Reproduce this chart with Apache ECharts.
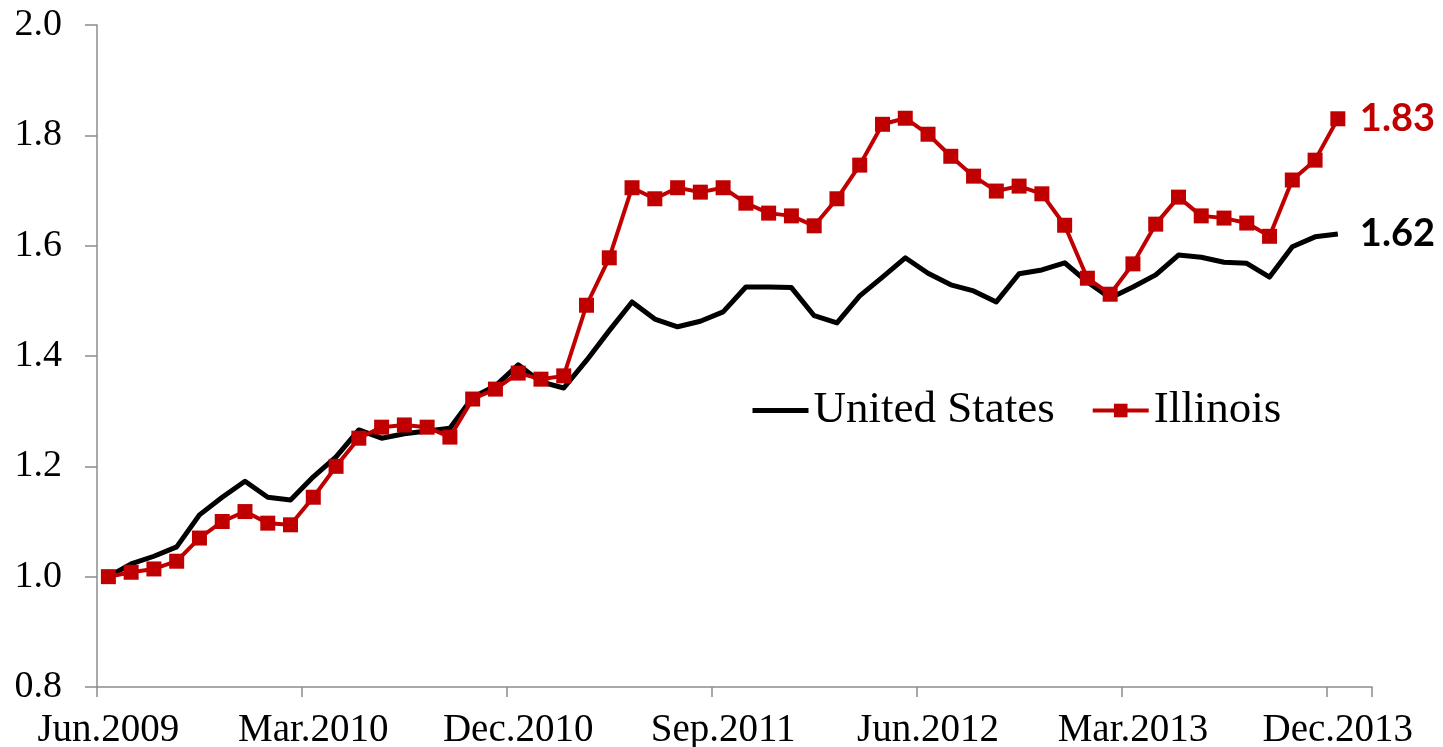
<!DOCTYPE html>
<html>
<head>
<meta charset="utf-8">
<script src="https://cdn.jsdelivr.net/npm/echarts@6/dist/echarts.min.js"></script>
<style>
  html, body { margin: 0; padding: 0; background: #fff; }
  #chart { width: 1443px; height: 747px; }
</style>
</head>
<body>
<div id="chart"></div>
<script>
const categories = [
  'Jun.2009','Jul.2009','Aug.2009','Sep.2009','Oct.2009','Nov.2009','Dec.2009',
  'Jan.2010','Feb.2010','Mar.2010','Apr.2010','May.2010','Jun.2010','Jul.2010','Aug.2010','Sep.2010','Oct.2010','Nov.2010','Dec.2010',
  'Jan.2011','Feb.2011','Mar.2011','Apr.2011','May.2011','Jun.2011','Jul.2011','Aug.2011','Sep.2011','Oct.2011','Nov.2011','Dec.2011',
  'Jan.2012','Feb.2012','Mar.2012','Apr.2012','May.2012','Jun.2012','Jul.2012','Aug.2012','Sep.2012','Oct.2012','Nov.2012','Dec.2012',
  'Jan.2013','Feb.2013','Mar.2013','Apr.2013','May.2013','Jun.2013','Jul.2013','Aug.2013','Sep.2013','Oct.2013','Nov.2013','Dec.2013',
  'Jan.2014'
];

const unitedStates = [
  1.000, 1.023, 1.037, 1.054, 1.112, 1.144, 1.173, 1.144, 1.139, 1.181,
  1.217, 1.266, 1.251, 1.259, 1.264, 1.269, 1.325, 1.346, 1.384, 1.353,
  1.342, 1.392, 1.446, 1.498, 1.467, 1.453, 1.463, 1.480, 1.525, 1.525,
  1.524, 1.473, 1.460, 1.509, 1.543, 1.578, 1.550, 1.529, 1.518, 1.498,
  1.549, 1.556, 1.569, 1.534, 1.505, 1.525, 1.547, 1.583, 1.579, 1.570,
  1.568, 1.543, 1.598, 1.616, 1.621
];

const illinois = [
  1.000, 1.008, 1.014, 1.028, 1.070, 1.100, 1.118, 1.097, 1.094, 1.144,
  1.200, 1.251, 1.271, 1.275, 1.271, 1.253, 1.322, 1.340, 1.369, 1.358,
  1.364, 1.492, 1.578, 1.705, 1.685, 1.705, 1.697, 1.705, 1.677, 1.659,
  1.654, 1.636, 1.685, 1.746, 1.820, 1.831, 1.802, 1.762, 1.726, 1.699,
  1.708, 1.694, 1.637, 1.541, 1.512, 1.567, 1.639, 1.688, 1.654, 1.650,
  1.641, 1.617, 1.719, 1.755, 1.830
];

const yTicks = { min: 0.8, max: 2.0, interval: 0.2 };

const axisColor = '#8c8c8c';
const serif = '"Liberation Serif", "Times New Roman", serif';
const labelFont = 'Lato, "Noto Sans", sans-serif';

const chart = echarts.init(document.getElementById('chart'), null, { renderer: 'canvas' });

chart.setOption({
  animation: false,
  backgroundColor: '#ffffff',
  grid: { left: 97, right: 71, top: 25, bottom: 60, containLabel: false, outerBoundsMode: 'none' },
  legend: {
    data: [
      { name: 'United States', itemStyle: { opacity: 0 }, lineStyle: { width: 5, color: '#000000' } },
      { name: 'Illinois', lineStyle: { width: 4, color: '#C00000' } }
    ],
    left: 750,
    top: 388,
    padding: 0,
    itemWidth: 56,
    itemHeight: 17,
    itemGap: 36,
    textStyle: { fontFamily: serif, fontSize: 45, color: '#000' }
  },
  xAxis: {
    type: 'category',
    data: categories,
    boundaryGap: true,
    axisLine: { show: true, onZero: false, lineStyle: { color: axisColor, width: 1.5 } },
    axisTick: { show: true, interval: 8, length: 10, lineStyle: { color: axisColor, width: 1.5 } },
    axisLabel: { interval: 8, margin: 24, fontFamily: serif, fontSize: 39, color: '#000' },
    splitLine: { show: false }
  },
  yAxis: {
    type: 'value',
    min: yTicks.min,
    max: yTicks.max,
    interval: yTicks.interval,
    axisLine: { show: true, lineStyle: { color: axisColor, width: 1.5 } },
    axisTick: { show: true, length: 12, lineStyle: { color: axisColor, width: 1.5 } },
    axisLabel: { margin: 35, fontFamily: serif, fontSize: 38, color: '#000',
      formatter: v => v.toFixed(1) },
    splitLine: { show: false }
  },
  series: [
    {
      name: 'United States',
      type: 'line',
      data: unitedStates,
      symbol: 'none',
      z: 2,
      lineStyle: { color: '#000000', width: 5, join: 'round' },
      itemStyle: { color: '#000000' },
      endLabel: {
        show: true,
        distance: 22,
        formatter: p => Number(p.value).toFixed(2),
        fontFamily: labelFont,
        fontWeight: 'bold',
        fontSize: 38,
        color: '#000000'
      }
    },
    {
      name: 'Illinois',
      type: 'line',
      data: illinois,
      symbol: 'rect',
      symbolSize: 15,
      showAllSymbol: true,
      z: 3,
      lineStyle: { color: '#C00000', width: 4, join: 'round' },
      itemStyle: { color: '#C00000' },
      endLabel: {
        show: true,
        distance: 22,
        formatter: p => Number(p.value).toFixed(2),
        fontFamily: labelFont,
        fontWeight: 'bold',
        fontSize: 38,
        color: '#C00000'
      }
    }
  ]
});
</script>
</body>
</html>
